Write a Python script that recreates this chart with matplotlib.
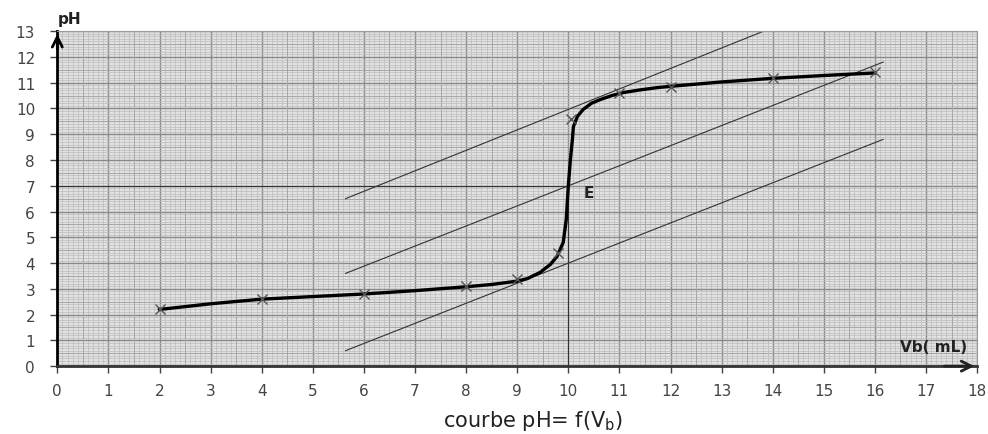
"""
titration curve pH = f(Vb) on graph paper
"""
import numpy as np
import matplotlib.pyplot as plt
from matplotlib.ticker import MultipleLocator

# measured points (crosses)
vb_points = [2, 4, 6, 8, 9, 9.8, 10.05, 11, 12, 14, 16]
ph_points = [2.2, 2.6, 2.8, 3.1, 3.4, 4.4, 9.6, 10.6, 10.85, 11.2, 11.4]

# points
vb_curve = [2, 3, 4, 5, 6, 7, 8, 8.5, 9, 9.2, 9.45, 9.65, 9.78, 9.9, 9.96,
            10.0, 10.04, 10.08, 10.1, 10.18, 10.29, 10.45, 10.63, 10.85, 11.08,
            11.4, 11.74, 12, 13, 14, 15, 16]
ph_curve = [2.2, 2.42, 2.6, 2.7, 2.8, 2.93, 3.08, 3.17, 3.3, 3.4, 3.64, 3.95,
            4.26, 4.8, 5.7, 7.0, 8.0, 8.8, 9.3, 9.7, 9.96, 10.2, 10.35, 10.5,
            10.62, 10.72, 10.81, 10.86, 11.03, 11.17, 11.28, 11.38]

# parallel tangents (start and end points)
tangent_vb = [[5.64, 13.82], [5.64, 16.16], [5.64, 16.16]]
tangent_ph = [[6.5, 13.0], [3.6, 11.8], [0.6, 8.8]]

# equivalence point
ve, phe = 10, 7

x_ticks = list(range(0, 19))
y_ticks = list(range(0, 14))

fig = plt.figure(figsize=(9.88, 4.35), dpi=100)
ax = fig.add_axes([0.058, 0.156, 0.931, 0.77])
ax.set_xlim(0, 18)
ax.set_ylim(0, 13)
ax.set_facecolor('#e2e2e2')

# graph paper grid
ax.xaxis.set_minor_locator(MultipleLocator(0.1))
ax.yaxis.set_minor_locator(MultipleLocator(0.1))
ax.grid(which='minor', color='#bcbcbc', lw=0.5)
ax.grid(which='major', color='#8a8a8a', lw=1.0)
for v in np.arange(0.5, 18, 1):
    ax.axvline(v, color='#a8a8a8', lw=0.7, zorder=0.6)
for v in np.arange(0.5, 13, 1):
    ax.axhline(v, color='#a8a8a8', lw=0.7, zorder=0.6)
ax.set_axisbelow(True)

ax.set_xticks(x_ticks)
ax.set_yticks(y_ticks)
ax.tick_params(which='minor', length=0)
ax.tick_params(which='major', length=5, width=1, color='#444444',
               labelsize=11, labelcolor='#444444')
ax.tick_params(axis='x', pad=7)
ax.tick_params(axis='y', pad=11)

for s in ['top', 'right']:
    ax.spines[s].set_color('#9a9a9a')
    ax.spines[s].set_linewidth(0.8)
ax.spines['left'].set_linewidth(2)
ax.spines['bottom'].set_linewidth(2)
ax.spines['bottom'].set_color('#333333')

# axis arrows
ax.annotate('', xy=(0, 13), xytext=(0, 12.2), annotation_clip=False,
            arrowprops=dict(arrowstyle='->', lw=2, color='black', mutation_scale=18))
ax.annotate('', xy=(18, 0), xytext=(17.3, 0), annotation_clip=False,
            arrowprops=dict(arrowstyle='->', lw=2, color='#222222', mutation_scale=18))

# construction lines
ax.plot([0, ve], [phe, phe], color='#333333', lw=0.8)
ax.plot([ve, ve], [0, phe], color='#333333', lw=0.8)
for tx, ty in zip(tangent_vb, tangent_ph):
    ax.plot(tx, ty, color='#333333', lw=0.8)

# curve and measured points
ax.plot(vb_curve, ph_curve, color='black', lw=2.4, zorder=3)
ax.plot(vb_points, ph_points, 'x', color='#555555', ms=7, mew=1, zorder=4)

ax.text(10.3, 6.75, 'E', fontsize=11, fontweight='bold', color='#222222',
        va='center')
ax.text(0.0, 13.5, 'pH', fontsize=11, fontweight='bold', color='#222222',
        va='center')
ax.text(17.8, 0.75, 'Vb( mL)', fontsize=11, fontweight='bold', color='#222222',
        ha='right', va='center')

fig.text(0.54, 0.005, r'courbe pH= f(V$_\mathregular{b}$)', fontsize=15,
         color='#222222', ha='center', va='bottom')

plt.savefig('out.png')
